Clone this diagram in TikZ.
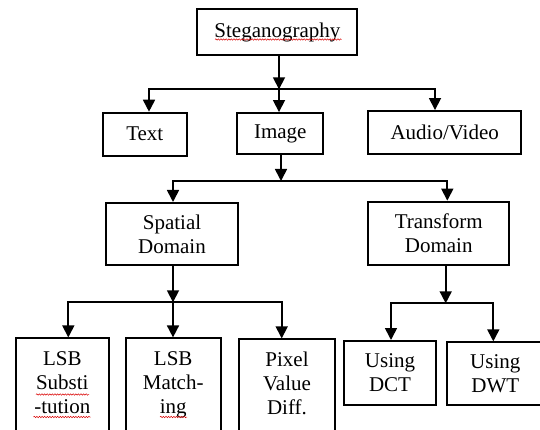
\documentclass[tikz,border=0pt]{standalone}
\usepackage{fontspec}
\setmainfont{Liberation Serif}
\usetikzlibrary{arrows.meta,decorations.pathmorphing}
\begin{document}
\begin{tikzpicture}[x=1pt,y=-1pt,
  box/.style={draw, line width=2pt, inner sep=0pt, align=center, font=\fontsize{21}{24}\selectfont},
  lbl/.style={inner sep=0pt, align=center, font=\fontsize{21}{24}\selectfont},
  conn/.style={line width=1.7pt, line cap=rect},
  arr/.style={line width=1.7pt, -{Triangle[width=12pt,length=12pt]}},
  wavy/.style={red!85!black, line width=0.5pt, decorate, decoration={snake, amplitude=0.7pt, segment length=2.6pt}}]
\useasboundingbox (0,0) rectangle (540,430);
\clip (0,0) rectangle (540,430);

% boxes
\node[box, minimum width=160, minimum height=45.7] (steg) at (277.4,32.2) {Steganography};
\node[box, minimum width=84.3, minimum height=43] (text) at (144.8,134.2) {Text};
\node[box, minimum width=86, minimum height=41.3] (image) at (280.3,133.7) {Image};
\node[box, minimum width=152.7, minimum height=43.3] (audio) at (444.7,132.7) {Audio/Video};
\node[box, minimum width=132.6, minimum height=62] (spatial) at (172,234) {Spatial\\Domain};
\node[box, minimum width=140.7, minimum height=63.3] (transform) at (438.7,233.3) {Transform\\Domain};
\node[box, minimum width=91.4, minimum height=64] (dct) at (390,373) {Using\\DCT};
\node[box, minimum width=96, minimum height=62.7] (dwt) at (495.3,373.7) {Using\\DWT};

\node[box, minimum width=92.7, minimum height=110, anchor=north] (lsb) at (62.3,337.4) {};
\node[lbl, anchor=north] (lsbt) at (62.3,348.2) {\strut LSB\\Substi\\-tution};
\node[box, minimum width=95, minimum height=110, anchor=north] (match) at (173.2,337.4) {};
\node[lbl, anchor=north] (matcht) at (173.2,348.2) {\strut LSB\\Match-\\ing};
\node[box, minimum width=96.6, minimum height=110, anchor=north] (pixel) at (287,338.4) {};
\node[lbl, anchor=north] (pixelt) at (287,349.9) {\strut Pixel\\Value\\Diff.};

% level 1
\coordinate (j1) at (279,89.3);
\coordinate (b1l) at (149,89.3);
\coordinate (b1r) at (435,89.3);
\draw[arr] (steg.south -| j1) -- (j1);
\draw[conn] (b1l) -- (b1r);
\draw[arr] (b1l) -- (b1l |- text.north);
\draw[arr] (j1) -- (j1 |- image.north);
\draw[arr] (b1r) -- (b1r |- audio.north);

% level 2
\coordinate (j2) at (281,181);
\coordinate (b2l) at (173,181);
\coordinate (b2r) at (447.3,181);
\draw[arr] (image.south -| j2) -- (j2);
\draw[conn] (b2l) -- (b2r);
\draw[arr] (b2l) -- (b2l |- spatial.north);
\draw[arr] (b2r) -- (b2r |- transform.north);

% level 3
\coordinate (j3) at (173,302.3);
\coordinate (b3l) at (68.3,302.3);
\coordinate (b3r) at (281.7,302.3);
\draw[arr] (spatial.south -| j3) -- (j3);
\draw[conn] (b3l) -- (b3r);
\draw[arr] (b3l) -- (b3l |- lsb.north);
\draw[arr] (j3) -- (j3 |- match.north);
\draw[arr] (b3r) -- (b3r |- pixel.north);

% level 4
\coordinate (j4) at (445.7,303.3);
\coordinate (b4l) at (391,303.3);
\coordinate (b4r) at (493.3,303.3);
\draw[arr] (transform.south -| j4) -- (j4);
\draw[conn] (b4l) -- (b4r);
\draw[arr] (b4l) -- (b4l |- dct.north);
\draw[arr] (b4r) -- (b4r |- dwt.north);

% spell-check underlines
\draw[wavy] (215,39.5) -- (341.5,39.5);
\draw[wavy] (36,394.5) -- (89,394.5);
\draw[wavy] (33.5,417) -- (90.5,417);
\draw[wavy] (160,417) -- (187,417);
\end{tikzpicture}
\end{document}
